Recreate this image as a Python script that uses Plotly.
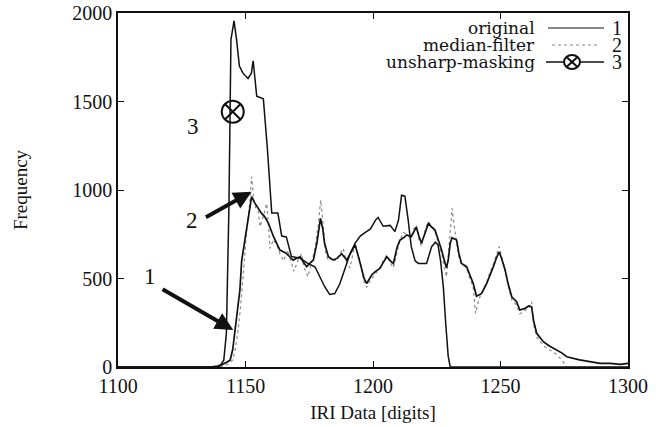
import plotly.graph_objects as go

# ---------------- data ----------------
orig_x = [1100, 1136, 1139, 1141, 1143, 1144, 1145, 1146, 1147, 1147.8, 1148.5, 1149.5, 1150.5, 1151.5,
          1152.4, 1153.5, 1155, 1156.3, 1157.5, 1159, 1161, 1162.3, 1163.5, 1165, 1166, 1167.5, 1168.7,
          1170, 1171.4, 1172.8, 1174, 1175.5, 1176.6, 1178, 1179.4, 1180.3, 1181, 1182.5, 1184.4, 1186,
          1187.7, 1189.7, 1191.5, 1193, 1195, 1196.5, 1197.5, 1199.5, 1201, 1202.7, 1204, 1205.4, 1206.8,
          1208, 1209.5, 1210.6, 1212, 1213.2, 1215, 1216, 1217, 1218, 1219, 1220.5, 1221.7, 1223, 1224.3,
          1225.6, 1226.9, 1228, 1228.8, 1229.5, 1230.3, 1231, 1232.8, 1233.7, 1234.7, 1236.7, 1238, 1239.3,
          1240.6, 1242.6, 1244.6, 1246, 1247.2, 1248.5, 1249.5, 1250.5, 1251.8, 1253, 1254.4, 1256.3,
          1257.6, 1259.6, 1261, 1262.2, 1263, 1264.2, 1266.8, 1269, 1272, 1274, 1276, 1278, 1281, 1285,
          1289, 1293, 1297, 1300]
orig_y = [0, 0, 5, 15, 30, 40, 100, 209, 320, 435, 600, 700, 793, 900,
          962, 930, 896, 868, 850, 811, 736, 700, 661, 650, 642, 620, 604,
          615, 623, 590, 567, 590, 604, 700, 840, 780, 699, 623, 604, 615,
          640, 604, 650, 690, 585, 500, 472, 520, 540, 557, 590, 623, 600,
          585, 680, 717, 730, 746, 736, 760, 790, 740, 699, 760, 811, 790, 774,
          717, 661, 600, 560, 604, 700, 730, 717, 640, 585, 567, 520, 472,
          400, 416, 472, 530, 567, 620, 650, 610, 548, 470, 397, 369,
          322, 331, 345, 340, 260, 190, 143, 120, 96, 80, 58, 50, 40, 30,
          21, 20, 15, 21]

median_x = [1100, 1138, 1141, 1143, 1145, 1146, 1147, 1148, 1149, 1149.8, 1150.5, 1151.5, 1152.4, 1153.2,
            1154, 1155, 1155.7, 1157, 1158.3, 1159, 1159.6, 1161, 1162.5, 1163.5, 1165, 1166.5, 1168, 1169,
            1170.5, 1172, 1173, 1174.5, 1175.5, 1177, 1178.5, 1179.5, 1180.5, 1181.5, 1182.5, 1184, 1185.5,
            1187, 1188.3, 1189.7, 1191, 1193, 1195, 1196.5, 1197.5, 1199, 1201, 1202.7, 1204, 1205.4, 1206.8,
            1208, 1209.5, 1210.6, 1212, 1213.2, 1215, 1216, 1217, 1218, 1219, 1220.5, 1221.7, 1223, 1224.3,
            1225.6, 1226.9, 1228, 1228.8, 1229.5, 1230.3, 1231, 1232, 1232.8, 1233.7, 1234.7, 1236.7, 1238,
            1239.3, 1240.2, 1241.5, 1242.6, 1244.6, 1246, 1247.2, 1248.5, 1249.5, 1250.5, 1251.8, 1253,
            1254.4, 1256.3, 1257.6, 1259.6, 1261, 1262.2, 1263, 1264.2, 1266.8, 1269, 1272, 1274, 1275.5,
            1276, 1300]
median_y = [0, 0, 5, 15, 40, 100, 200, 330, 500, 661, 780, 900, 1075, 950,
            900, 880, 793, 850, 924, 800, 670, 720, 680, 640, 600, 660, 580, 540,
            600, 640, 560, 510, 570, 650, 800, 943, 800, 640, 600, 620, 600,
            640, 670, 590, 560, 700, 590, 480, 450, 490, 530, 560, 600, 630, 590,
            560, 650, 720, 760, 750, 730, 780, 802, 720, 680, 780, 820, 800, 770,
            700, 640, 560, 510, 620, 780, 896, 780, 700, 620, 580, 560, 500,
            450, 303, 380, 420, 480, 540, 580, 640, 680, 620, 550, 460,
            380, 350, 300, 320, 330, 369, 240, 170, 120, 100, 70, 40, 5,
            0, 0]

unsharp_x = [1100, 1138, 1140, 1141.5, 1142.5, 1143.5, 1144.3, 1145.5, 1146.5, 1147.6, 1149, 1151, 1152.3,
             1153, 1154.4, 1157, 1158.5, 1159.6, 1160.3, 1162.7, 1164.2, 1166, 1168, 1171.4, 1174, 1177.3,
             1179.2, 1181, 1183, 1185, 1187, 1189, 1191, 1193, 1195, 1197, 1199, 1201, 1202, 1204, 1206.7,
             1208.6, 1210, 1211.2, 1212.5, 1213.8, 1215, 1216.5, 1217.8, 1221, 1223, 1224.5, 1225.5, 1226.5,
             1227.6, 1228.5, 1229.5, 1230.3, 1300]
unsharp_y = [0, 0, 5, 40, 190, 900, 1850, 1955, 1850, 1700, 1660, 1630, 1660,
             1730, 1530, 1515, 1250, 1000, 870, 870, 740, 735, 625, 615, 590, 565,
             505, 455, 410, 415, 470, 560, 640, 700, 740, 760, 780, 830, 845, 795, 800,
             765, 830, 970, 965, 830, 680, 600, 585, 585, 680, 705, 690, 600,
             450, 250, 60, 0, 0]

marker_x = [1145.0]
marker_y = [1442]

series_names = ["original", "median-filter", "unsharp-masking"]
series_numbers = ["1", "2", "3"]
x_ticks = [1100, 1150, 1200, 1250, 1300]
y_ticks = [0, 500, 1000, 1500, 2000]

SERIF = "Liberation Serif"
LEG_FONT = "DejaVu Serif"

fig = go.Figure()
fig.add_trace(go.Scatter(x=median_x, y=median_y, mode="lines", name=series_names[1],
                         line=dict(color="#8a8a8a", width=1.2, dash="dot")))
fig.add_trace(go.Scatter(x=orig_x, y=orig_y, mode="lines", name=series_names[0],
                         line=dict(color="#111111", width=1.7)))
fig.add_trace(go.Scatter(x=unsharp_x, y=unsharp_y, mode="lines", name=series_names[2],
                         line=dict(color="#111111", width=1.5)))
fig.add_trace(go.Scatter(x=marker_x, y=marker_y, mode="markers", showlegend=False,
                         marker=dict(symbol="circle-x-open", size=22, color="#111111",
                                     line=dict(width=2, color="#111111"))))

# annotations near the curves
fig.add_annotation(x=1129.5, y=1358, text="3", showarrow=False,
                   font=dict(family=SERIF, size=23, color="#111"))
fig.add_annotation(x=1128.9, y=830, text="2", showarrow=False,
                   font=dict(family=SERIF, size=23, color="#111"))
fig.add_annotation(x=1112.5, y=510, text="1", showarrow=False,
                   font=dict(family=SERIF, size=23, color="#111"))
fig.add_annotation(x=1152.4, y=990, ax=1133.9, ay=842, axref="x", ayref="y", text="",
                   showarrow=True, arrowhead=2, arrowsize=0.9, arrowwidth=4, arrowcolor="#111")
fig.add_annotation(x=1145.2, y=209, ax=1116.9, ay=444, axref="x", ayref="y", text="",
                   showarrow=True, arrowhead=2, arrowsize=0.9, arrowwidth=4, arrowcolor="#111")

# custom legend (text left of the sample, number to the right); coords in screen pixels
L, B, W, H = 118, 367, 510, 354
def px2paper(px, py):
    return (px - L) / W, (B - py) / H

rows_py = [28, 45, 62]
for i, py in enumerate(rows_py):
    tx, ty = px2paper(536, py)
    fig.add_annotation(x=tx, y=ty, xref="paper", yref="paper", text=series_names[i],
                       showarrow=False, xanchor="right", yanchor="middle", borderpad=0,
                       font=dict(family=LEG_FONT, size=17, color="#111"))
    nx, ny = px2paper(617, py)
    fig.add_annotation(x=nx, y=ny, xref="paper", yref="paper", text=series_numbers[i],
                       showarrow=False, xanchor="center", yanchor="middle", borderpad=0,
                       font=dict(family=SERIF, size=20, color="#111"))

x0, y0 = px2paper(548, rows_py[0]); x1, _ = px2paper(604, rows_py[0])
fig.add_shape(type="line", xref="paper", yref="paper", x0=x0, x1=x1, y0=y0, y1=y0,
              line=dict(color="#111", width=1.2))
x0, y1r = px2paper(552, rows_py[1]); x1, _ = px2paper(600, rows_py[1])
fig.add_shape(type="line", xref="paper", yref="paper", x0=x0, x1=x1, y0=y1r, y1=y1r,
              line=dict(color="#8a8a8a", width=1.2, dash="dot"))
x0, y2r = px2paper(546, rows_py[2]); x1, _ = px2paper(604, rows_py[2])
fig.add_shape(type="line", xref="paper", yref="paper", x0=x0, x1=x1, y0=y2r, y1=y2r,
              line=dict(color="#111", width=1.4))
cx, cy = px2paper(572, rows_py[2])
fig.add_shape(type="circle", xref="paper", yref="paper", xsizemode="pixel", ysizemode="pixel",
              xanchor=cx, yanchor=cy, x0=-8, x1=8, y0=-7, y1=7,
              fillcolor="white", line=dict(color="#111", width=2))
fig.add_shape(type="line", xref="paper", yref="paper", xsizemode="pixel", ysizemode="pixel",
              xanchor=cx, yanchor=cy, x0=-5.5, x1=5.5, y0=-5, y1=5, line=dict(color="#111", width=2))
fig.add_shape(type="line", xref="paper", yref="paper", xsizemode="pixel", ysizemode="pixel",
              xanchor=cx, yanchor=cy, x0=-5.5, x1=5.5, y0=5, y1=-5, line=dict(color="#111", width=2))

fig.update_layout(
    width=664, height=427,
    margin=dict(l=L, r=664 - L - W, t=13, b=427 - B),
    paper_bgcolor="white", plot_bgcolor="white",
    showlegend=False,
    font=dict(family=SERIF, color="#111"),
)
fig.update_xaxes(range=[1100, 1300], tickvals=x_ticks, ticktext=[str(v) for v in x_ticks],
                 ticks="inside", ticklen=6, tickwidth=1.2, tickcolor="#111",
                 showline=True, linecolor="#111", linewidth=1.6, mirror="ticks",
                 showgrid=False, zeroline=False, automargin=False, ticklabeloverflow="allow",
                 tickfont=dict(family=SERIF, size=20, color="#111"),
                 title=dict(text="IRI Data [digits]", font=dict(family=SERIF, size=19, color="#111"),
                            standoff=10))
fig.update_yaxes(range=[0, 2000], tickvals=y_ticks, ticktext=[str(v) for v in y_ticks],
                 ticks="inside", ticklen=6, tickwidth=1.2, tickcolor="#111",
                 showline=True, linecolor="#111", linewidth=1.6, mirror="ticks",
                 showgrid=False, zeroline=False, automargin=False, ticklabeloverflow="allow",
                 tickfont=dict(family=SERIF, size=20, color="#111"),
                 title=dict(text="Frequency", font=dict(family=SERIF, size=19, color="#111"),
                            standoff=40))

# remove the browser's default 8px page margin so the figure fills the window exactly
fig.write_html("out.html", config={"displayModeBar": False},
               post_script="document.body.style.margin='0';")
